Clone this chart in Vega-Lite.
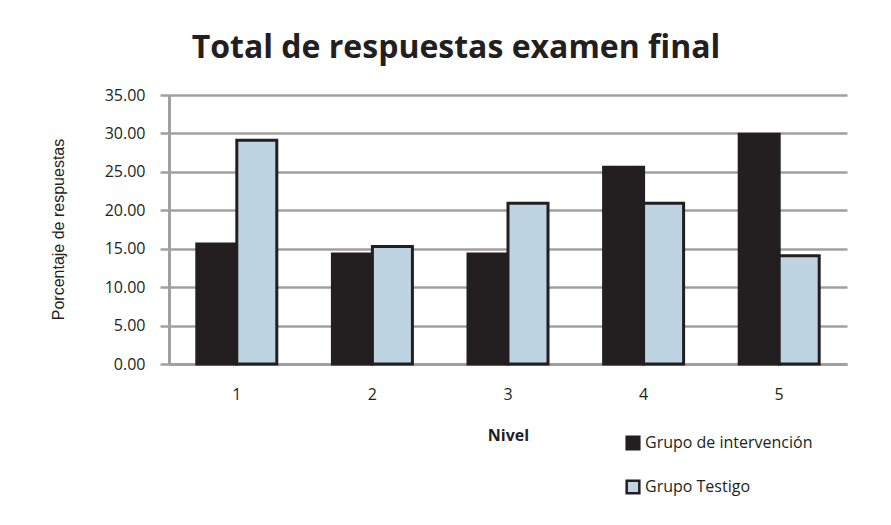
{
  "$schema": "https://vega.github.io/schema/vega-lite/v6.json",
  "width": 678,
  "height": 269,
  "autosize": {"type": "none"},
  "padding": {"left": 169, "top": 95, "right": 44, "bottom": 161},
  "background": "white",
  "title": {
    "text": "Total de respuestas examen final",
    "font": "Open Sans",
    "fontSize": 32,
    "fontWeight": "bold",
    "color": "#231f20",
    "anchor": "middle",
    "dx": -52,
    "offset": 22
  },
  "data": {
    "values": [
      {"nivel": "1", "grupo": "Grupo de intervención", "pct": 15.6},
      {"nivel": "1", "grupo": "Grupo Testigo", "pct": 29.1},
      {"nivel": "2", "grupo": "Grupo de intervención", "pct": 14.3},
      {"nivel": "2", "grupo": "Grupo Testigo", "pct": 15.3},
      {"nivel": "3", "grupo": "Grupo de intervención", "pct": 14.3},
      {"nivel": "3", "grupo": "Grupo Testigo", "pct": 20.9},
      {"nivel": "4", "grupo": "Grupo de intervención", "pct": 25.6},
      {"nivel": "4", "grupo": "Grupo Testigo", "pct": 20.9},
      {"nivel": "5", "grupo": "Grupo de intervención", "pct": 29.9},
      {"nivel": "5", "grupo": "Grupo Testigo", "pct": 14.1}
    ]
  },
  "mark": {"type": "bar", "stroke": "#231f20", "strokeWidth": 3},
  "encoding": {
    "x": {
      "field": "nivel",
      "type": "nominal",
      "scale": {"paddingInner": 0.41, "paddingOuter": 0.205},
      "axis": {
        "title": "Nivel",
        "labelAngle": 0,
        "labelFont": "Open Sans",
        "labelFontSize": 16,
        "labelColor": "#231f20",
        "labelPadding": 22,
        "ticks": false,
        "domain": true,
        "domainColor": "#a0a0a0",
        "domainWidth": 3,
        "titleFont": "Open Sans",
        "titleFontSize": 16,
        "titleFontWeight": "bold",
        "titleColor": "#231f20",
        "titleY": 63,
        "titleBaseline": "top"
      }
    },
    "xOffset": {
      "field": "grupo",
      "type": "nominal",
      "sort": ["Grupo de intervención", "Grupo Testigo"]
    },
    "y": {
      "field": "pct",
      "type": "quantitative",
      "scale": {"domain": [0, 35]},
      "axis": {
        "title": "Porcentaje de respuestas",
        "values": [0, 5, 10, 15, 20, 25, 30, 35],
        "format": ".2f",
        "labelFont": "Open Sans",
        "labelFontSize": 16,
        "labelColor": "#231f20",
        "labelPadding": 15,
        "tickSize": 9,
        "tickColor": "#a0a0a0",
        "tickWidth": 2.5,
        "domainColor": "#a0a0a0",
        "domainWidth": 3,
        "grid": true,
        "gridColor": "#a0a0a0",
        "gridWidth": 2.5,
        "titleFont": "Liberation Sans",
        "titleFontSize": 16,
        "titleFontWeight": "normal",
        "titleColor": "#231f20",
        "titleX": -111,
        "titleY": 134,
        "titleAngle": -90,
        "titleAlign": "center",
        "titleBaseline": "middle"
      }
    },
    "color": {
      "field": "grupo",
      "type": "nominal",
      "scale": {
        "domain": ["Grupo de intervención", "Grupo Testigo"],
        "range": ["#231f20", "#bfd4e2"]
      },
      "legend": {
        "title": null,
        "orient": "none",
        "legendX": 456,
        "legendY": 340,
        "symbolType": "square",
        "symbolSize": 160,
        "symbolStrokeColor": "#231f20",
        "symbolStrokeWidth": 2.5,
        "labelFont": "Open Sans",
        "labelFontSize": 16,
        "labelColor": "#231f20",
        "labelOffset": 4,
        "labelLimit": 400,
        "rowPadding": 20
      }
    }
  },
  "config": {
    "view": {"stroke": null}
  }
}
